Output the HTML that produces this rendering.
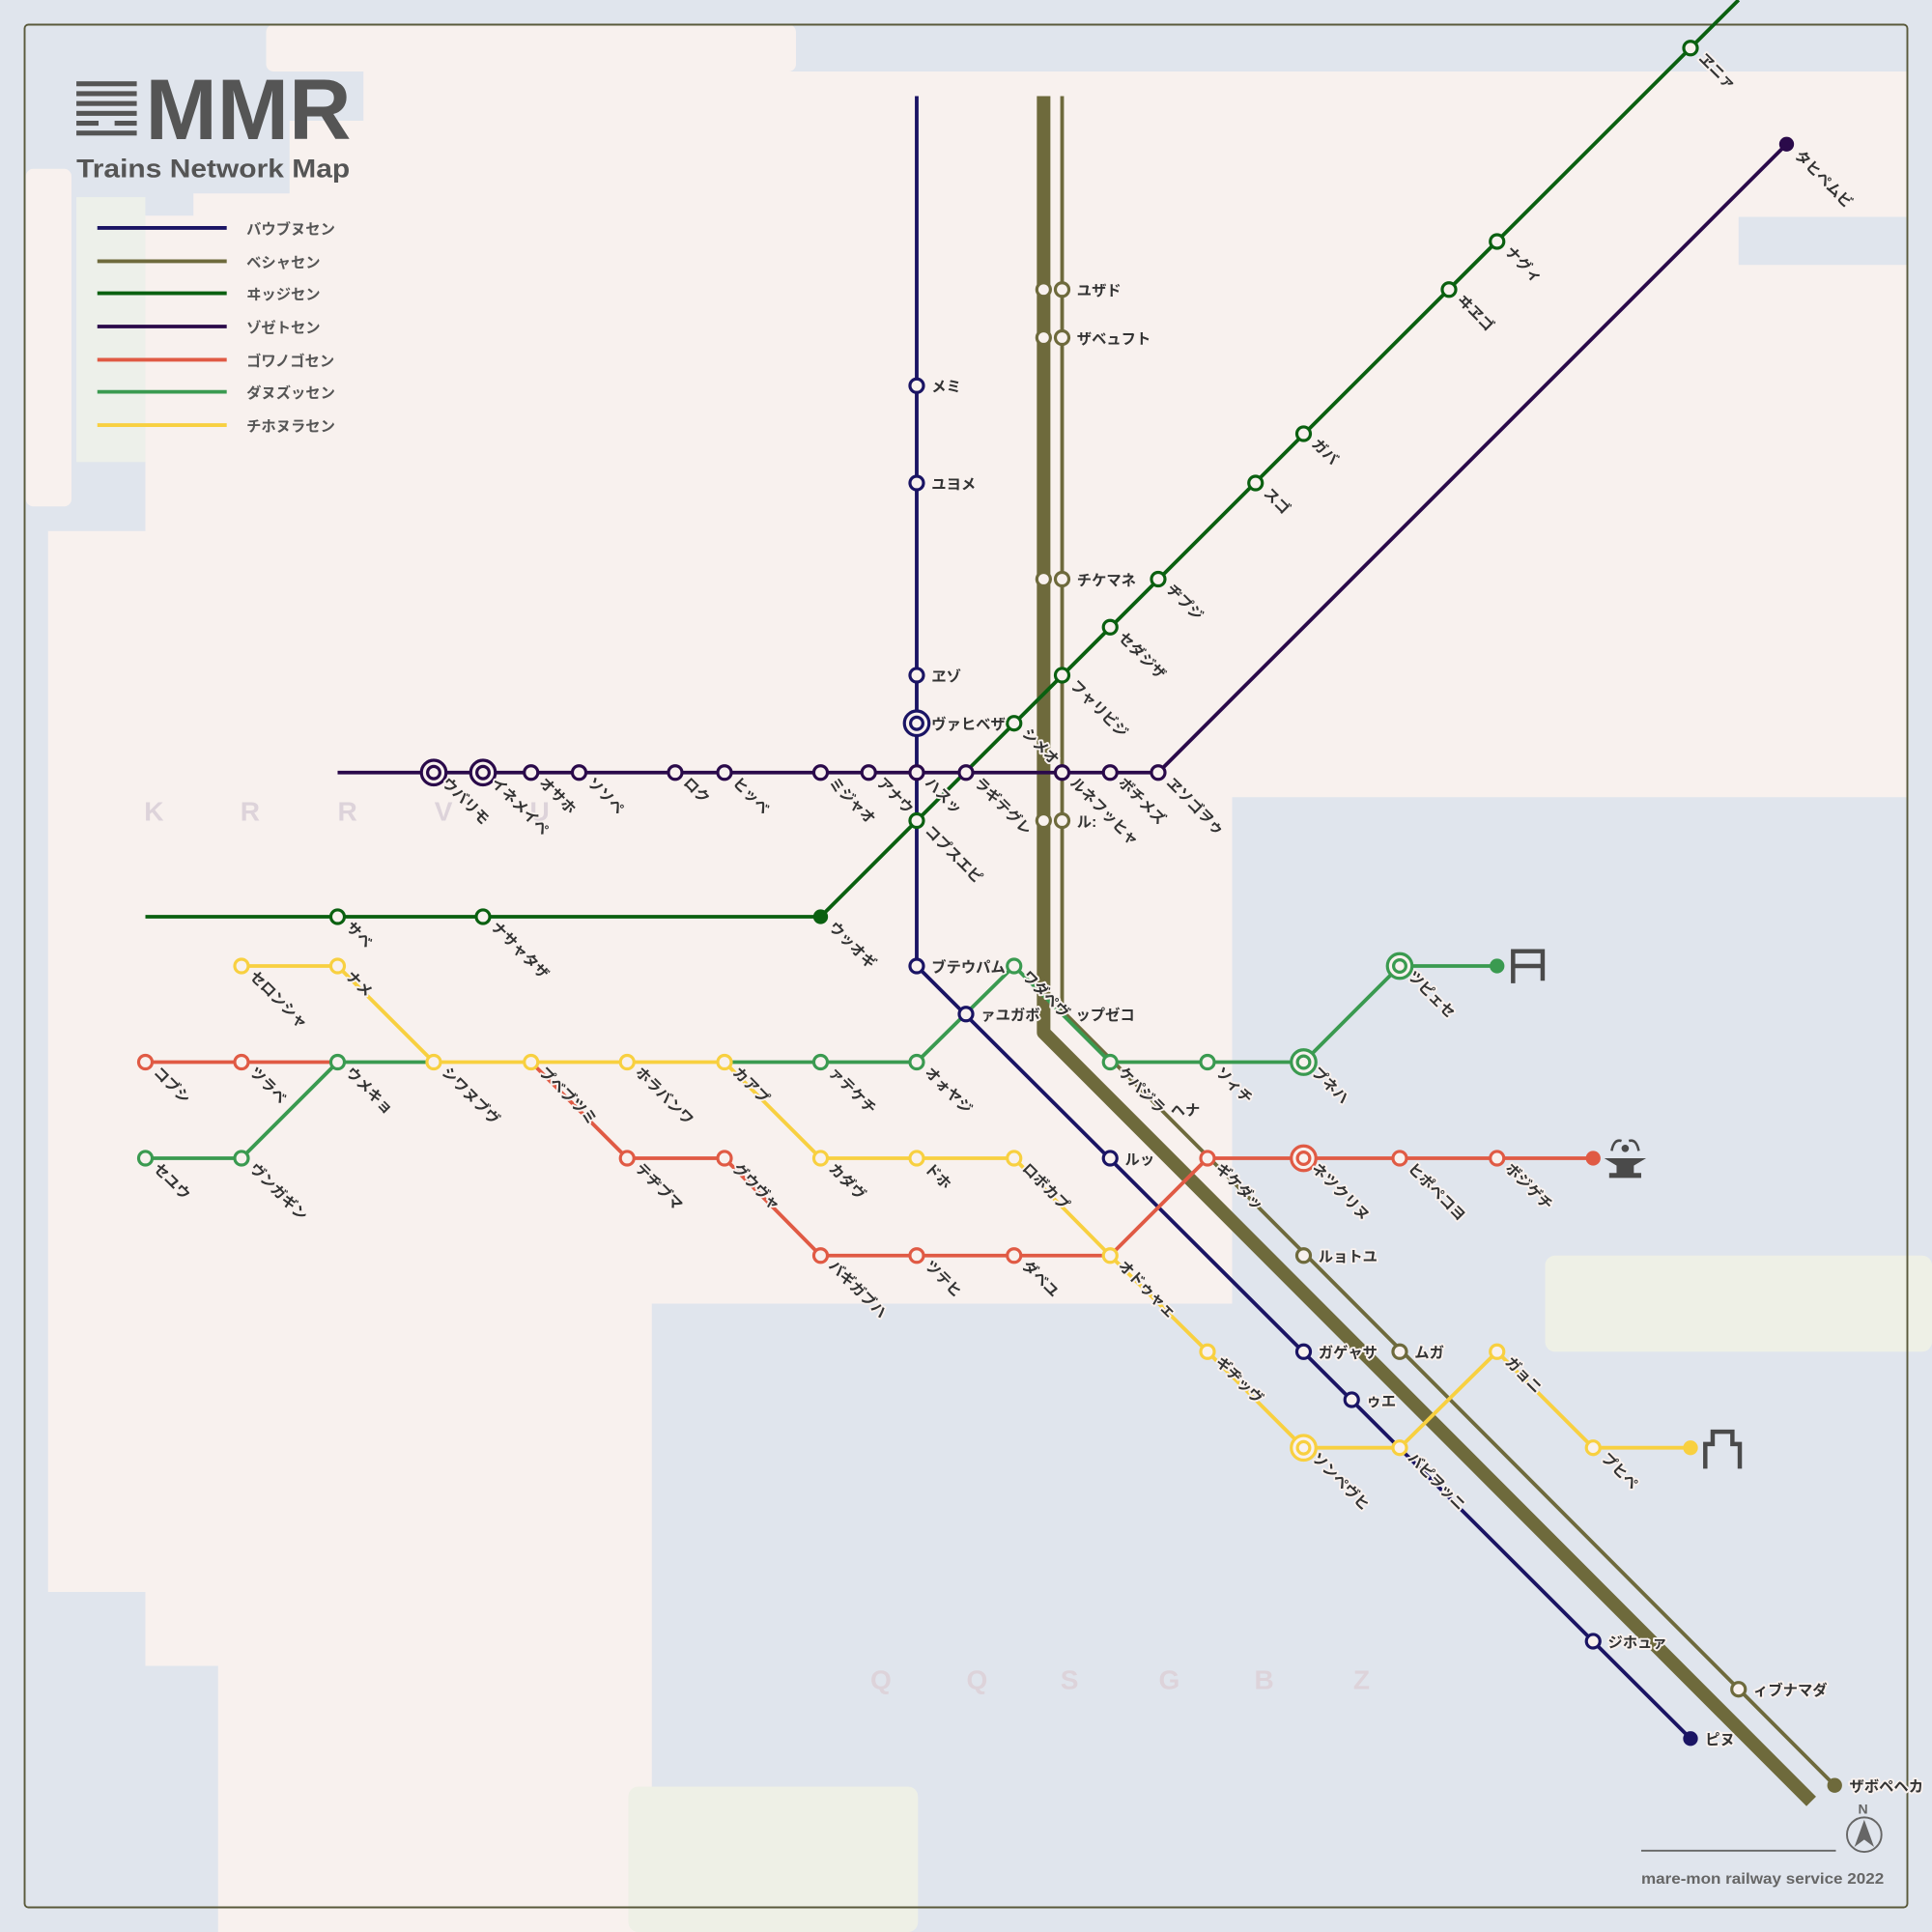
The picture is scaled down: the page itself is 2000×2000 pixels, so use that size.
<!DOCTYPE html>
<html><head><meta charset="utf-8"><style>
html,body{margin:0;padding:0;background:#e0e5ed;}
svg{display:block;}
text{font-family:"Liberation Sans","Noto Sans CJK JP",sans-serif;}
.l{font-size:12px;font-weight:bold;fill:#333;stroke:#f8f1ee;stroke-width:3px;paint-order:stroke;stroke-linejoin:round;}
.lg{font-size:12px;font-weight:bold;fill:#555;}
.g{font-size:22px;font-weight:bold;fill:#ddd3da;}
.s{fill:#f8f1ee;stroke-width:2.5;}
</style></head><body>
<svg width="2000" height="2000" viewBox="0 0 1568 1568" xmlns="http://www.w3.org/2000/svg">
<rect width="1568" height="1568" fill="#e0e5ed"/>
<!-- land -->
<path d="M295,58 L1548,58 L1548,647 L1000,647 L1000,1058 L529,1058 L529,1568 L177,1568 L177,1352 L118,1352 L118,1292 L39,1292 L39,431 L118,431 L118,175 L157,175 L157,157 L235,157 L235,98 L295,98 Z" fill="#f8f1ee"/>
<rect x="216" y="20" width="430" height="38" rx="6" fill="#f8f1ee"/>
<rect x="21" y="137" width="37" height="274" rx="6" fill="#f8f1ee"/>
<rect x="62" y="160" width="56" height="215" fill="#edf0ea"/>
<rect x="1411" y="176" width="137" height="39" fill="#e0e5ed"/>
<rect x="1254" y="1019" width="314" height="78" rx="8" fill="#eef0e6"/>
<rect x="510" y="1450" width="235" height="118" rx="8" fill="#eef0e6"/>
<rect x="20" y="20" width="1528" height="1528" rx="3" fill="none" stroke="#5a5a3c" stroke-width="1.5"/>
<!-- ghost letters -->
<text class="g" x="125" y="666" text-anchor="middle">K</text><text class="g" x="203" y="666" text-anchor="middle">R</text><text class="g" x="282" y="666" text-anchor="middle">R</text><text class="g" x="360" y="666" text-anchor="middle">V</text><text class="g" x="438" y="666" text-anchor="middle">U</text>
<text class="g" x="715" y="1371" text-anchor="middle">Q</text><text class="g" x="793" y="1371" text-anchor="middle">Q</text><text class="g" x="868" y="1371" text-anchor="middle">S</text><text class="g" x="949" y="1371" text-anchor="middle">G</text><text class="g" x="1026" y="1371" text-anchor="middle">B</text><text class="g" x="1105" y="1371" text-anchor="middle">Z</text>
<!-- logo -->
<g fill="#555"><rect x="62" y="66" width="49" height="4"/><rect x="62" y="74" width="49" height="4"/><rect x="62" y="82" width="49" height="4"/><rect x="62" y="90" width="49" height="4"/><rect x="62" y="98" width="18" height="4"/><rect x="93" y="98" width="18" height="4"/><rect x="62" y="106" width="49" height="4"/></g>
<text x="118" y="113" font-size="70" font-weight="bold" fill="#555" textLength="167" lengthAdjust="spacingAndGlyphs">MMR</text>
<text x="62" y="144" font-size="21" font-weight="bold" fill="#555" textLength="222" lengthAdjust="spacingAndGlyphs">Trains Network Map</text>
<!-- legend -->
<g stroke-width="3">
<line x1="79" y1="185" x2="184" y2="185" stroke="#1a1464"/>
<line x1="79" y1="212" x2="184" y2="212" stroke="#6e6a3c"/>
<line x1="79" y1="238" x2="184" y2="238" stroke="#0a6010"/>
<line x1="79" y1="265" x2="184" y2="265" stroke="#2a0a4a"/>
<line x1="79" y1="292" x2="184" y2="292" stroke="#e05a44"/>
<line x1="79" y1="318" x2="184" y2="318" stroke="#3a9a50"/>
<line x1="79" y1="345" x2="184" y2="345" stroke="#f8d040"/>
</g>
<text class="lg" x="200" y="190">バウブヌセン</text><text class="lg" x="200" y="217">ベシャセン</text><text class="lg" x="200" y="243">ヰッジセン</text><text class="lg" x="200" y="270">ゾゼトセン</text><text class="lg" x="200" y="297">ゴワノゴセン</text><text class="lg" x="200" y="323">ダヌズッセン</text><text class="lg" x="200" y="350">チホヌラセン</text>
<!-- lines -->
<g fill="none" stroke-linejoin="round">
<polyline points="847,78 847,838 1470,1462" stroke="#6e6a3c" stroke-width="11"/>
<polyline points="862,78 862,820 1489,1449" stroke="#6e6a3c" stroke-width="3"/>
<polyline points="744,78 744,784 1372,1411" stroke="#1a1464" stroke-width="3"/>
<polyline points="118,744 666,744 1411,0" stroke="#0a6010" stroke-width="3"/>
<polyline points="274,627 940,627 1450,117" stroke="#2a0a4a" stroke-width="3"/>
<polyline points="118,862 274,862" stroke="#e05a44" stroke-width="3"/>
<polyline points="431,862 509,940 588,940 666,1019 901,1019 980,940 1293,940" stroke="#e05a44" stroke-width="3"/>
<polyline points="118,940 196,940 274,862 352,862" stroke="#3a9a50" stroke-width="3"/>
<polyline points="588,862 744,862 823,784 901,862 1058,862 1136,784 1215,784" stroke="#3a9a50" stroke-width="3"/>
<polyline points="196,784 274,784 352,862 588,862 666,940 823,940 901,1019 980,1097 1058,1175 1136,1175 1215,1097 1293,1175 1372,1175" stroke="#f8d040" stroke-width="3"/>
</g>
<!-- stations olive -->
<g class="s" stroke="#6e6a3c">
<circle cx="847" cy="235" r="5.5"/><circle cx="862" cy="235" r="5.5"/>
<circle cx="847" cy="274" r="5.5"/><circle cx="862" cy="274" r="5.5"/>
<circle cx="847" cy="470" r="5.5"/><circle cx="862" cy="470" r="5.5"/>
<circle cx="847" cy="666" r="5.5"/><circle cx="862" cy="666" r="5.5"/>
<circle cx="1058" cy="1019" r="5.5"/><circle cx="1136" cy="1097" r="5.5"/><circle cx="1411" cy="1371" r="5.5"/>
</g>
<circle cx="1489" cy="1449" r="6" fill="#6e6a3c"/>
<!-- navy -->
<g class="s" stroke="#1a1464">
<circle cx="744" cy="313" r="5.5"/><circle cx="744" cy="392" r="5.5"/><circle cx="744" cy="548" r="5.5"/>
<circle cx="744" cy="587" r="10"/><circle cx="744" cy="587" r="5"/>
<circle cx="744" cy="784" r="5.5"/><circle cx="784" cy="823" r="5.5"/><circle cx="901" cy="940" r="5.5"/>
<circle cx="1058" cy="1097" r="5.5"/><circle cx="1097" cy="1136" r="5.5"/><circle cx="1293" cy="1332" r="5.5"/>
</g>
<circle cx="1372" cy="1411" r="6" fill="#1a1464"/>
<!-- purple -->
<g class="s" stroke="#2a0a4a">
<circle cx="352" cy="627" r="10"/><circle cx="352" cy="627" r="5"/>
<circle cx="392" cy="627" r="10"/><circle cx="392" cy="627" r="5"/>
<circle cx="431" cy="627" r="5.5"/><circle cx="470" cy="627" r="5.5"/><circle cx="548" cy="627" r="5.5"/><circle cx="588" cy="627" r="5.5"/><circle cx="666" cy="627" r="5.5"/><circle cx="705" cy="627" r="5.5"/><circle cx="744" cy="627" r="5.5"/><circle cx="784" cy="627" r="5.5"/><circle cx="862" cy="627" r="5.5"/><circle cx="901" cy="627" r="5.5"/><circle cx="940" cy="627" r="5.5"/>
</g>
<circle cx="1450" cy="117" r="6" fill="#2a0a4a"/>
<!-- dark green -->
<g class="s" stroke="#0a6010">
<circle cx="274" cy="744" r="5.5"/><circle cx="392" cy="744" r="5.5"/><circle cx="744" cy="666" r="5.5"/><circle cx="823" cy="587" r="5.5"/><circle cx="862" cy="548" r="5.5"/><circle cx="901" cy="509" r="5.5"/><circle cx="940" cy="470" r="5.5"/><circle cx="1019" cy="392" r="5.5"/><circle cx="1058" cy="352" r="5.5"/><circle cx="1176" cy="235" r="5.5"/><circle cx="1215" cy="196" r="5.5"/><circle cx="1372" cy="39" r="5.5"/>
</g>
<circle cx="666" cy="744" r="6" fill="#0a6010"/>
<!-- red -->
<g class="s" stroke="#e05a44">
<circle cx="118" cy="862" r="5.5"/><circle cx="196" cy="862" r="5.5"/><circle cx="509" cy="940" r="5.5"/><circle cx="588" cy="940" r="5.5"/><circle cx="666" cy="1019" r="5.5"/><circle cx="744" cy="1019" r="5.5"/><circle cx="823" cy="1019" r="5.5"/><circle cx="980" cy="940" r="5.5"/>
<circle cx="1058" cy="940" r="10"/><circle cx="1058" cy="940" r="5"/>
<circle cx="1136" cy="940" r="5.5"/><circle cx="1215" cy="940" r="5.5"/>
</g>
<circle cx="1293" cy="940" r="6" fill="#e05a44"/>
<!-- green -->
<g class="s" stroke="#3a9a50">
<circle cx="118" cy="940" r="5.5"/><circle cx="196" cy="940" r="5.5"/><circle cx="274" cy="862" r="5.5"/><circle cx="666" cy="862" r="5.5"/><circle cx="744" cy="862" r="5.5"/><circle cx="823" cy="784" r="5.5"/><circle cx="901" cy="862" r="5.5"/><circle cx="980" cy="862" r="5.5"/>
<circle cx="1058" cy="862" r="10"/><circle cx="1058" cy="862" r="5"/>
<circle cx="1136" cy="784" r="10"/><circle cx="1136" cy="784" r="5"/>
</g>
<circle cx="1215" cy="784" r="6" fill="#3a9a50"/>
<!-- yellow -->
<g class="s" stroke="#f8d040">
<circle cx="196" cy="784" r="5.5"/><circle cx="274" cy="784" r="5.5"/><circle cx="352" cy="862" r="5.5"/><circle cx="431" cy="862" r="5.5"/><circle cx="509" cy="862" r="5.5"/><circle cx="588" cy="862" r="5.5"/><circle cx="666" cy="940" r="5.5"/><circle cx="744" cy="940" r="5.5"/><circle cx="823" cy="940" r="5.5"/><circle cx="901" cy="1019" r="5.5"/><circle cx="980" cy="1097" r="5.5"/>
<circle cx="1058" cy="1175" r="10"/><circle cx="1058" cy="1175" r="5"/>
<circle cx="1136" cy="1175" r="5.5"/><circle cx="1215" cy="1097" r="5.5"/><circle cx="1293" cy="1175" r="5.5"/>
</g>
<circle cx="1372" cy="1175" r="6" fill="#f8d040"/>
<!-- icons -->
<g fill="none" stroke="#4a4a4a" stroke-width="3.5">
<path d="M1228,798 V772 H1252 V796 M1228,784 H1252"/>
<path d="M1384,1192 V1172 H1390 V1162 H1406 V1172 H1412 V1192"/>
</g>
<g fill="#4a4a4a"><path d="M1302,940 H1336 L1326,946 V952 H1332 V956 H1306 V952 H1312 V946 Z"/><circle cx="1319" cy="932" r="3"/></g>
<path d="M1308,934 q2,-10 8,-8 M1330,934 q-2,-10 -8,-8" fill="none" stroke="#4a4a4a" stroke-width="2"/>
<!-- labels horizontal -->
<g class="l">
<text x="756" y="318">メミ</text><text x="756" y="397">ユヨメ</text><text x="756" y="553">ヱゾ</text><text x="756" y="592">ヴァヒベザ</text>
<text x="756" y="789">ブテウパム</text><text x="796" y="828">ァユガボ</text><text x="873" y="828">ップゼコ</text><text x="913" y="945">ルッ</text>
<text x="1070" y="1102">ガゲャサ</text><text x="1109" y="1141">ゥエ</text><text x="1305" y="1337">ジホュァ</text><text x="1384" y="1416">ピヌ</text>
<text x="874" y="240">ユザド</text><text x="874" y="279">ザベュフト</text><text x="874" y="475">チケマネ</text><text x="874" y="671">ル:</text>
<text x="1070" y="1024">ルョトユ</text><text x="1148" y="1102">ムガ</text><text x="1423" y="1376">ィブナマダ</text><text x="1501" y="1454">ザボペヘカ</text>
<text x="950" y="905">ヘナ</text>
</g>
<!-- labels rotated -->
<g class="l">
<text transform="translate(358,636) rotate(45)">ウバリモ</text>
<text transform="translate(398,636) rotate(45)">イネメイペ</text>
<text transform="translate(437,636) rotate(45)">オサホ</text>
<text transform="translate(476,636) rotate(45)">ソソペ</text>
<text transform="translate(554,636) rotate(45)">ロク</text>
<text transform="translate(594,636) rotate(45)">ヒッベ</text>
<text transform="translate(672,636) rotate(45)">ミジャオ</text>
<text transform="translate(711,636) rotate(45)">アナウ</text>
<text transform="translate(750,636) rotate(45)">ハスッ</text>
<text transform="translate(790,636) rotate(45)">ラギテグレ</text>
<text transform="translate(829,596) rotate(45)">シメオ</text>
<text transform="translate(868,636) rotate(45)">ルネフッヒャ</text>
<text transform="translate(907,636) rotate(45)">ボチメズ</text>
<text transform="translate(946,636) rotate(45)">ヱソゴヲゥ</text>
<text transform="translate(1456,127) rotate(45)">タヒペムビ</text>
<text transform="translate(280,753) rotate(45)">サベ</text>
<text transform="translate(398,753) rotate(45)">ナサャタザ</text>
<text transform="translate(672,753) rotate(45)">ウッオギ</text>
<text transform="translate(750,675) rotate(45)">コプスエピ</text>
<text transform="translate(868,557) rotate(45)">フャリビジ</text>
<text transform="translate(907,518) rotate(45)">セダジザ</text>
<text transform="translate(946,479) rotate(45)">ヂプジ</text>
<text transform="translate(1025,401) rotate(45)">スゴ</text>
<text transform="translate(1064,361) rotate(45)">ガバ</text>
<text transform="translate(1182,244) rotate(45)">ヰヱゴ</text>
<text transform="translate(1221,205) rotate(45)">ナグィ</text>
<text transform="translate(1378,48) rotate(45)">ヱニァ</text>
<text transform="translate(202,793) rotate(45)">セロンシャ</text>
<text transform="translate(280,793) rotate(45)">ナメ</text>
<text transform="translate(124,871) rotate(45)">コブシ</text>
<text transform="translate(202,871) rotate(45)">ツラベ</text>
<text transform="translate(280,871) rotate(45)">ウメキョ</text>
<text transform="translate(358,871) rotate(45)">シワヌブヴ</text>
<text transform="translate(437,871) rotate(45)">プベブツミ</text>
<text transform="translate(515,871) rotate(45)">ホラバンワ</text>
<text transform="translate(594,871) rotate(45)">カアプ</text>
<text transform="translate(672,871) rotate(45)">ァテケチ</text>
<text transform="translate(750,871) rotate(45)">オォヤジ</text>
<text transform="translate(829,793) rotate(45)">ワダペヴ</text>
<text transform="translate(907,871) rotate(45)">ケパジラ</text>
<text transform="translate(986,871) rotate(45)">ソィチ</text>
<text transform="translate(1064,871) rotate(45)">プネハ</text>
<text transform="translate(1142,793) rotate(45)">ツピェセ</text>
<text transform="translate(124,949) rotate(45)">セユウ</text>
<text transform="translate(202,949) rotate(45)">ヴンガギン</text>
<text transform="translate(515,949) rotate(45)">テヂブマ</text>
<text transform="translate(594,949) rotate(45)">グウヴャ</text>
<text transform="translate(672,949) rotate(45)">カダヴ</text>
<text transform="translate(750,949) rotate(45)">ドホ</text>
<text transform="translate(829,949) rotate(45)">ロボカプ</text>
<text transform="translate(986,949) rotate(45)">ギケダッ</text>
<text transform="translate(1064,949) rotate(45)">ネツクリヌ</text>
<text transform="translate(1142,949) rotate(45)">ヒポペコヨ</text>
<text transform="translate(1221,949) rotate(45)">ボジゲチ</text>
<text transform="translate(672,1028) rotate(45)">バギガブハ</text>
<text transform="translate(750,1028) rotate(45)">ツテヒ</text>
<text transform="translate(829,1028) rotate(45)">ダベユ</text>
<text transform="translate(907,1028) rotate(45)">オドゥャェ</text>
<text transform="translate(986,1106) rotate(45)">ギヂッヴ</text>
<text transform="translate(1064,1184) rotate(45)">ソンペヴヒ</text>
<text transform="translate(1142,1184) rotate(45)">バピヲッニ</text>
<text transform="translate(1221,1106) rotate(45)">ガョニ</text>
<text transform="translate(1299,1184) rotate(45)">プヒペ</text>
</g>
<!-- compass & footer -->
<text x="1512" y="1472" font-size="11" font-weight="bold" fill="#666" text-anchor="middle">N</text>
<circle cx="1513" cy="1489" r="14" fill="none" stroke="#666" stroke-width="1.5"/>
<path d="M1513,1477 L1505,1499 L1513,1493 L1521,1499 Z" fill="#666"/>
<line x1="1332" y1="1502" x2="1490" y2="1502" stroke="#666" stroke-width="1.5"/>
<text x="1332" y="1529" font-size="12" font-weight="bold" fill="#666" textLength="197" lengthAdjust="spacingAndGlyphs">mare-mon railway service 2022</text>
</svg>
</body></html>
